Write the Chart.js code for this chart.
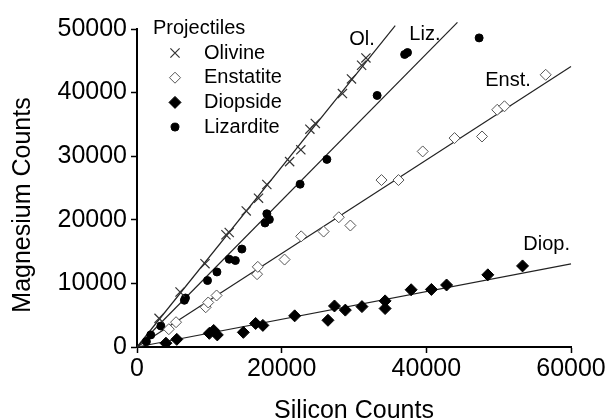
<!DOCTYPE html>
<html>
<head>
<meta charset="utf-8">
<script src="https://cdn.jsdelivr.net/npm/chart.js@4/dist/chart.umd.min.js"></script>
<style>
  html, body { margin: 0; padding: 0; background: #fff; }
  #wrap { width: 608px; height: 420px; }
</style>
</head>
<body>
<div id="wrap"><canvas id="chart" width="608" height="420"></canvas></div>
<script>
const seriesNames = ['Olivine', 'Enstatite', 'Diopside', 'Lizardite'];

const olivineSi = [3050, 5950, 9400, 12300, 12750, 15100, 16800, 17950, 21100, 22650, 23900, 24650, 28400, 29650, 31050, 31650];
const olivineMg = [4500, 8650, 13100, 17650, 18000, 21400, 23400, 25550, 29150, 31000, 34250, 35150, 39850, 42150, 44300, 45450];

const enstatiteSi = [4400, 5400, 9500, 9850, 11000, 16600, 16700, 20400, 22700, 25800, 27900, 29500, 33800, 36150, 39500, 43900, 47700, 49800, 50800, 56500];
const enstatiteMg = [2800, 3900, 6250, 7000, 8100, 11450, 12600, 13750, 17400, 18150, 20400, 19100, 26250, 26250, 30750, 32850, 33100, 37300, 37850, 42800];

const diopsideSi = [4000, 5500, 10000, 10600, 11100, 14700, 16400, 17400, 21800, 26400, 27300, 28800, 31100, 34300, 34300, 37900, 40700, 42800, 48500, 53300];
const diopsideMg = [600, 1200, 2150, 2600, 1900, 2300, 3700, 3400, 4900, 4200, 6450, 5800, 6350, 7250, 6050, 9000, 9050, 9750, 11350, 12750];

const lizarditeSi = [1300, 1900, 3300, 6550, 6700, 9750, 11050, 12750, 13600, 14500, 17700, 18300, 17950, 22550, 26250, 33200, 37000, 37400, 47300];
const lizarditeMg = [850, 1900, 3300, 7350, 7700, 10450, 11800, 13800, 13600, 15400, 19500, 20050, 20950, 25600, 29500, 39550, 46000, 46300, 48600];

// fitted lines through the origin, same order as seriesNames
const fitSlope = [1.415, 0.735, 0.218, 1.152];
const fitEndSi = [35700, 60000, 60000, 44300];

// line labels
const fitLabel = ['Ol.', 'Enst.', 'Diop.', 'Liz.'];
const fitLabelSi = [29350, 48150, 53400, 37650];
const fitLabelMg = [48400, 41950, 16050, 49200];

// axes
const xMax = 60000, xStep = 10000, xLabelEvery = 20000;
const yMax = 50000, yStep = 5000, yLabelEvery = 10000;
const xTitle = 'Silicon Counts';
const yTitle = 'Magnesium Counts';

const FONT = '"Liberation Sans", Arial, sans-serif';
const INK = '#000';

function pts(xs, ys) {
  return xs.map((v, i) => ({ x: v, y: ys[i] }));
}

const styles = [
  { pointStyle: 'crossRot', pointRadius: 6.5, borderColor: '#333', backgroundColor: '#333', borderWidth: 1.2 },
  { pointStyle: 'rectRot', pointRadius: 5.5, borderColor: '#555', backgroundColor: '#fff', borderWidth: 1 },
  { pointStyle: 'rectRot', pointRadius: 6, borderColor: '#000', backgroundColor: '#000', borderWidth: 1 },
  { pointStyle: 'circle', pointRadius: 4, borderColor: '#000', backgroundColor: '#000', borderWidth: 1 }
];

const seriesData = [
  pts(olivineSi, olivineMg),
  pts(enstatiteSi, enstatiteMg),
  pts(diopsideSi, diopsideMg),
  pts(lizarditeSi, lizarditeMg)
];

const datasets = seriesNames.map((name, i) => Object.assign({
  type: 'scatter',
  label: name,
  data: seriesData[i],
  pointHoverRadius: styles[i].pointRadius
}, styles[i]));

fitSlope.forEach((s, i) => {
  datasets.push({
    type: 'line',
    label: fitLabel[i],
    data: [{ x: 0, y: 0 }, { x: fitEndSi[i], y: s * fitEndSi[i] }],
    borderColor: '#222',
    borderWidth: 1.2,
    pointRadius: 0,
    fill: false,
    clip: false
  });
});

// legend box, line labels and the y title (sits a bit below the axis middle)
const annotate = {
  id: 'annotate',
  afterDatasetsDraw(chart) {
    const { ctx, chartArea } = chart;
    const x = chart.scales.x, y = chart.scales.y;
    ctx.save();
    ctx.textBaseline = 'middle';
    ctx.textAlign = 'left';
    ctx.font = '20px ' + FONT;
    ctx.fillStyle = INK;
    fitLabel.forEach((t, i) => {
      ctx.fillText(t, x.getPixelForValue(fitLabelSi[i]), y.getPixelForValue(fitLabelMg[i]));
    });

    const left = chartArea.left, top = chartArea.top;
    ctx.fillText('Projectiles', left + 16, top - 0.5);
    seriesNames.forEach((name, i) => {
      const st = styles[i];
      const cy = top + 24 + i * 24.7;
      ctx.fillStyle = st.backgroundColor;
      ctx.strokeStyle = st.borderColor;
      ctx.lineWidth = st.borderWidth;
      Chart.helpers.drawPoint(ctx, {
        pointStyle: st.pointStyle, radius: st.pointRadius, borderWidth: st.borderWidth, rotation: 0
      }, left + 38, cy);
      ctx.fillStyle = INK;
      ctx.fillText(name, left + 67, cy);
    });

    ctx.font = '25px ' + FONT;
    ctx.textAlign = 'center';
    ctx.translate(23, (chartArea.top + chartArea.bottom) / 2 + 17);
    ctx.rotate(-Math.PI / 2);
    ctx.fillText(yTitle, 0, 0);
    ctx.restore();
  }
};

new Chart(document.getElementById('chart'), {
  data: { datasets: datasets },
  options: {
    responsive: false,
    animation: false,
    layout: { padding: { top: 29, right: 37, left: 0, bottom: 0 } },
    plugins: {
      legend: { display: false },
      tooltip: { enabled: false }
    },
    scales: {
      x: {
        type: 'linear',
        min: 0,
        max: xMax,
        afterFit: (s) => { s.height = 73; },
        border: { display: true, color: INK, width: 2 },
        grid: { drawOnChartArea: false, drawTicks: true, tickLength: 6, color: INK, tickWidth: 1.5 },
        ticks: {
          stepSize: xStep,
          padding: 1,
          color: INK,
          font: { family: FONT, size: 25 },
          maxRotation: 0,
          callback: (v) => (v % xLabelEvery === 0 ? String(v) : '')
        },
        title: {
          display: true,
          text: xTitle,
          color: INK,
          font: { family: FONT, size: 25 },
          padding: { top: 0, bottom: -6 }
        }
      },
      y: {
        type: 'linear',
        min: 0,
        max: yMax,
        afterFit: (s) => { s.width = 137; },
        border: { display: true, color: INK, width: 2 },
        grid: { drawOnChartArea: false, drawTicks: true, tickLength: 6, color: INK, tickWidth: 1.5 },
        ticks: {
          stepSize: yStep,
          padding: 4,
          color: INK,
          font: { family: FONT, size: 25 },
          callback: (v) => (v % yLabelEvery === 0 ? String(v) : '')
        },
        title: { display: false }
      }
    }
  },
  plugins: [annotate]
});
</script>
</body>
</html>
